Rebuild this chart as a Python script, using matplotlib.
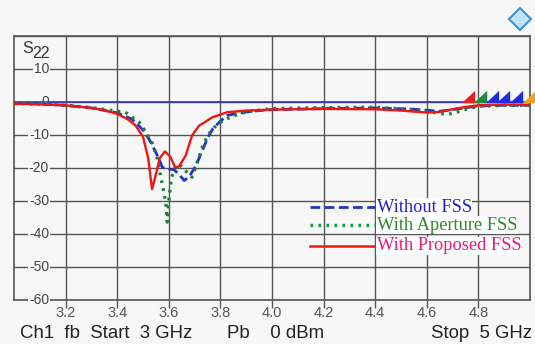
import numpy as np
import matplotlib
matplotlib.use("Agg")
import matplotlib.pyplot as plt
from matplotlib.lines import Line2D

# S22 traces (GHz, dB)
f_prop = [3.00, 3.10, 3.20, 3.30, 3.35, 3.40, 3.44, 3.47, 3.50, 3.52, 3.535, 3.55,
          3.565, 3.585, 3.605, 3.625, 3.64, 3.665, 3.69, 3.717, 3.77, 3.826, 3.90,
          4.00, 4.20, 4.40, 4.50, 4.60, 4.65, 4.70, 4.75, 4.80, 4.90, 5.00]
s_prop = [-0.5, -0.7, -1.0, -1.8, -2.5, -3.6, -5.2, -7.0, -10.5, -17.0, -26.4, -22.0,
          -17.0, -15.0, -16.5, -19.8, -19.5, -16.3, -10.2, -7.2, -4.6, -3.1, -2.6,
          -2.3, -2.1, -2.2, -2.6, -3.2, -3.0, -2.2, -1.5, -1.0, -0.8, -0.9]

f_none = [3.00, 3.10, 3.20, 3.30, 3.40, 3.458, 3.50, 3.523, 3.545, 3.562, 3.575, 3.60,
          3.62, 3.64, 3.66, 3.68, 3.705, 3.73, 3.75, 3.77, 3.80, 3.826, 3.88, 3.95,
          4.00, 4.20, 4.40, 4.55, 4.65, 4.70, 4.80, 4.90, 5.00]
s_none = [-0.5, -0.6, -1.0, -1.8, -3.3, -5.2, -8.5, -11.2, -14.5, -17.3, -19.8, -20.3,
          -20.5, -22.0, -23.8, -22.5, -19.3, -14.7, -11.0, -8.2, -5.8, -4.1, -3.2, -2.6,
          -2.3, -2.0, -1.8, -2.2, -2.8, -2.3, -1.2, -1.0, -1.0]

f_aper = [3.00, 3.10, 3.20, 3.30, 3.40, 3.432, 3.487, 3.51, 3.536, 3.555, 3.568, 3.58,
          3.588, 3.594, 3.60, 3.61, 3.625, 3.64, 3.66, 3.69, 3.705, 3.73, 3.75, 3.776,
          3.808, 3.85, 3.90, 4.00, 4.20, 4.40, 4.55, 4.62, 4.68, 4.72, 4.76, 4.80,
          4.90, 5.00]
s_aper = [-0.5, -0.6, -1.0, -1.7, -2.8, -3.1, -6.3, -9.0, -12.5, -17.0, -22.3, -27.0,
          -30.4, -36.4, -30.0, -23.0, -19.8, -18.8, -20.5, -22.8, -19.5, -13.7, -10.2,
          -7.7, -5.7, -4.2, -3.0, -2.0, -1.7, -1.6, -2.3, -3.0, -3.8, -3.0, -2.0, -1.3,
          -1.0, -1.0]

# reference line and trace markers on the right edge
ref_level = 0
mark_f = [4.760, 4.807, 4.853, 4.896, 4.944, 4.995]
mark_c = ["#ee1c1c", "#1e8c3a", "#1f2fe0", "#1f2fe0", "#1f2fe0", "#f0a020"]

xticks = [3.2, 3.4, 3.6, 3.8, 4.0, 4.2, 4.4, 4.6, 4.8]
yticks = [10, 0, -10, -20, -30, -40, -50, -60]

labels = ["Without FSS", "With Aperture FSS", "With Proposed FSS"]

BG = "#f7f7f7"
GRID = "#555555"

fig = plt.figure(figsize=(5.35, 3.44), dpi=100, facecolor=BG)
ax = fig.add_axes([14 / 535, 1 - 300 / 344, 516 / 535, 264 / 344], facecolor=BG)
ax.set_xlim(3, 5)
ax.set_ylim(-60, 20)

ax.set_xticks(xticks)
ax.set_xticklabels([f"{t:.1f}" for t in xticks], fontsize=10.5, color="#555555",
                   family="Liberation Sans")
ax.set_yticks([20] + yticks)
ax.set_yticklabels([])
ax.tick_params(axis="y", length=0)
ax.tick_params(axis="x", direction="out", length=5.5, width=1.0, color=GRID, pad=-1.5)
ax.grid(True, color=GRID, lw=1.0)
for sp in ax.spines.values():
    sp.set_color(GRID)
    sp.set_linewidth(1.2)

# y labels sit inside the screen, on top of the grid
for v in yticks:
    ax.text(0.068, v, f"{v}", transform=ax.get_yaxis_transform(), ha="right", va="center",
            fontsize=10, color="#444444", family="Liberation Sans",
            bbox=dict(facecolor=BG, edgecolor="none", pad=0.6), zorder=3)
ax.text(0.016, 0.953, "S", transform=ax.transAxes, ha="left", va="center",
        fontsize=11.5, color="#333333", family="Liberation Sans")
ax.text(0.036, 0.932, "22", transform=ax.transAxes, ha="left", va="center",
        fontsize=11.5, color="#333333", family="Liberation Sans")

ax.axhline(ref_level, color="#2a2ae8", lw=1.1, zorder=4)
ax.plot(f_none, s_none, color="#2233cc", lw=2.0, ls=(0, (3.5, 1.6)), zorder=5)
ax.plot(f_aper, s_aper, color="#1b7f3e", lw=2.4, ls=(0, (0.8, 1.6)), zorder=6)
ax.plot(f_prop, s_prop, color="#ee1515", lw=1.7, zorder=7)

tri = [(-1, 0), (1, 0), (1, 2)]
for f, c in zip(mark_f, mark_c):
    ax.plot([f], [ref_level], marker=tri, ms=16, color=c, mec=c, ls="none", zorder=8,
            clip_on=False)

# hand-made legend: lines without box, text with white patch
leg_y = [0.352, 0.284, 0.205]
leg_c = ["#2020d0", "#2b8a2b", "#e8187a"]
leg_ls = [dict(color="#2233cc", lw=2.0, ls=(0, (3.5, 1.6))),
          dict(color="#1b9a44", lw=2.4, ls=(0, (0.8, 1.6))),
          dict(color="#ee1515", lw=1.8)]
for y, lab, c, st in zip(leg_y, labels, leg_c, leg_ls):
    ax.plot([0.574, 0.700], [y, y], transform=ax.transAxes, zorder=9, **st)
    ax.text(0.703, y, lab, transform=ax.transAxes, ha="left", va="center", fontsize=13.2,
            color=c, family="Liberation Serif", zorder=9,
            bbox=dict(facecolor="white", edgecolor="none", pad=0.3))

# status line of the analyser
fig.text(20 / 535, 1 - 333 / 344, "Ch1  fb  Start  3 GHz", ha="left", va="center",
         fontsize=13.4, color="#222222", family="Liberation Sans")
fig.text(227 / 535, 1 - 333 / 344, "Pb    0 dBm", ha="left", va="center",
         fontsize=13.4, color="#222222", family="Liberation Sans")
fig.text(532 / 535, 1 - 333 / 344, "Stop  5 GHz", ha="right", va="center",
         fontsize=13.4, color="#222222", family="Liberation Sans")

# R&S logo diamond
fig.add_artist(Line2D([520 / 535], [1 - 19 / 344], marker="D", ms=11, mfc="#bfe3f7",
                      mec="#3c93d6", mew=1.5, transform=fig.transFigure))

fig.savefig("out.png", dpi=100, facecolor=BG)
